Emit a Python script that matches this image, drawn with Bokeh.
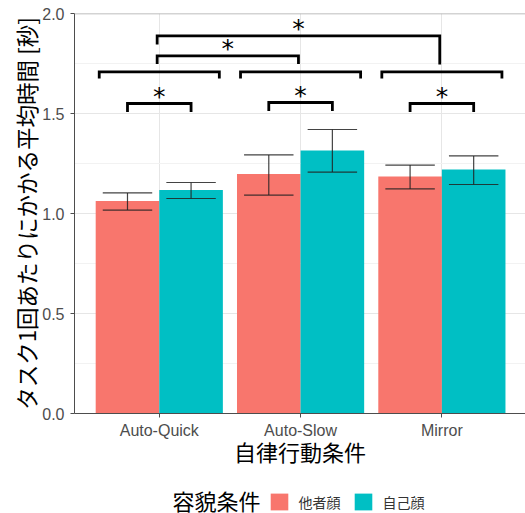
from bokeh.plotting import figure
from bokeh.layouts import column
from bokeh.models import (Range1d, FixedTicker, PrintfTickFormatter, Legend,
                          LegendItem, Label, Span)
from bokeh.core.properties import value
from bokeh.embed import file_html
from bokeh.resources import INLINE

# ---------------- data ----------------
categories = ["Auto-Quick", "Auto-Slow", "Mirror"]
groups = ["他者顔", "自己顔"]
legend_title = "容貌条件"
colors = ["#F8766D", "#00BFC4"]

mean_other = [1.063, 1.197, 1.185]
mean_self = [1.117, 1.315, 1.220]
low_other = [1.017, 1.092, 1.123]
high_other = [1.103, 1.293, 1.242]
low_self = [1.075, 1.207, 1.145]
high_self = [1.155, 1.420, 1.288]

y_ticks = [0.0, 0.5, 1.0, 1.5, 2.0]
y_minor = [0.25, 0.75, 1.25, 1.75]

# significance brackets (heights in seconds)
within_top = [1.550, 1.555, 1.550]      # 他者顔 vs 自己顔 in each condition
within_bottom = [1.507, 1.512, 1.507]
group_top = [1.708, 1.708, 1.708]       # brackets spanning each condition
group_bottom = [1.675, 1.675, 1.675]
between_pairs = [(0, 1), (0, 2)]        # condition comparisons
between_top = [1.788, 1.888]
between_left_bottom = [1.747, 1.845]
between_right_bottom = [1.747, 1.745]
star = "*"

# ---------------- layout constants ----------------
dodge = 0.225
bar_w = 0.45
cap_half = 0.175
group_half = 0.425
pair_shift = -0.015

FONT_JP = "Noto Sans CJK JP"
FONT_LAT = "Liberation Sans"

xc = [i + 1 for i in range(len(categories))]
x_other = [c - dodge for c in xc]
x_self = [c + dodge for c in xc]

W = 525
H_MAIN = 470
H_LEG = 43
X_START = 0.4
X_END = 0.4 + 451 / 141.3

p = figure(width=W, height=H_MAIN,
           x_range=Range1d(X_START, X_END), y_range=Range1d(0, 2),
           output_backend="svg", toolbar_location=None,
           min_border_left=74, min_border_right=0, min_border_top=13,
           min_border_bottom=57)

p.background_fill_color = "white"
p.border_fill_color = "white"
p.outline_line_color = None

# grids
p.xgrid.ticker = FixedTicker(ticks=xc)
p.ygrid.ticker = FixedTicker(ticks=y_ticks, minor_ticks=y_minor)
p.xgrid.grid_line_color = "#E6E6E6"
p.ygrid.grid_line_color = "#E6E6E6"
p.ygrid.minor_grid_line_color = "#F2F2F2"

# panel top border
p.add_layout(Span(location=y_ticks[-1], dimension="width", line_color="#A8A8A8", line_width=1.5))

# bars
p.vbar(x=x_other, top=mean_other, width=bar_w, color=colors[0], line_color=None)
p.vbar(x=x_self, top=mean_self, width=bar_w, color=colors[1], line_color=None)

# error bars
eb_color = "#222222"
for xs_, lo, hi in ((x_other, low_other, high_other), (x_self, low_self, high_self)):
    p.segment(x0=xs_, y0=lo, x1=xs_, y1=hi, line_color=eb_color, line_width=1.2, line_alpha=0.85)
    p.segment(x0=[x - cap_half for x in xs_], y0=lo, x1=[x + cap_half for x in xs_], y1=lo,
              line_color=eb_color, line_width=1.2, line_alpha=0.85)
    p.segment(x0=[x - cap_half for x in xs_], y0=hi, x1=[x + cap_half for x in xs_], y1=hi,
              line_color=eb_color, line_width=1.2, line_alpha=0.85)

# brackets
bx, by = [], []
sx, sy = [], []
for i, c in enumerate(xc):
    bx.append([c - dodge, c - dodge, c + dodge, c + dodge])
    by.append([within_bottom[i], within_top[i], within_top[i], within_bottom[i]])
    sx.append(c)
    sy.append(within_top[i])
    bx.append([c - group_half, c - group_half, c + group_half, c + group_half])
    by.append([group_bottom[i], group_top[i], group_top[i], group_bottom[i]])
for k, (a, b) in enumerate(between_pairs):
    xa = xc[a] + pair_shift
    xb = xc[b] + pair_shift
    bx.append([xa, xa, xb, xb])
    by.append([between_left_bottom[k], between_top[k], between_top[k], between_right_bottom[k]])
    sx.append((xa + xb) / 2)
    sy.append(between_top[k])
p.multi_line(xs=bx, ys=by, line_color="black", line_width=2.8, line_join="miter")
p.text(x=sx, y=sy, text=[star] * len(sx), text_font=value("DejaVu Sans"),
       text_font_size="25px", text_align="center", text_baseline="alphabetic",
       y_offset=-7, text_color="black")

# axes
p.xaxis.ticker = FixedTicker(ticks=xc)
p.xaxis.major_label_overrides = {c: categories[i] for i, c in enumerate(xc)}
p.yaxis.ticker = FixedTicker(ticks=y_ticks)
p.yaxis.formatter = PrintfTickFormatter(format="%.1f")

for ax in (p.xaxis[0], p.yaxis[0]):
    ax.axis_line_color = "#4D4D4D"
    ax.axis_line_width = 1
    ax.major_tick_line_color = "#4D4D4D"
    ax.major_tick_out = 4
    ax.major_tick_in = 0
    ax.minor_tick_line_color = None
    ax.major_label_text_font = FONT_LAT
    ax.major_label_text_font_size = "16px"
    ax.major_label_text_color = "#4D4D4D"
    ax.axis_label_text_font = FONT_JP
    ax.axis_label_text_font_style = "normal"
    ax.axis_label_text_color = "black"

p.xaxis.axis_label = "自律行動条件"
p.xaxis.axis_label_text_font_size = "22px"
p.xaxis.major_label_standoff = 4
p.xaxis.axis_label_standoff = -7
p.yaxis.axis_label = "タスク1回あたりにかかる平均時間 [秒]"
p.yaxis.axis_label_text_font_size = "22.5px"
p.yaxis.major_label_standoff = 6
p.yaxis.axis_label_standoff = -3

# ---------------- legend strip ----------------
# the strip shows only the legend; its y range lies above the bars so the
# key renderers themselves stay out of sight
q = figure(width=W, height=H_LEG, x_range=Range1d(X_START, X_END), y_range=Range1d(2, 3),
           x_axis_type=None, y_axis_type=None, output_backend="svg",
           toolbar_location=None, min_border=0)
q.outline_line_color = None
q.background_fill_color = "white"
q.border_fill_color = "white"
q.grid.visible = False

k_other = q.vbar(x=x_other, top=mean_other, width=bar_w, color=colors[0], line_color=None)
k_self = q.vbar(x=x_self, top=mean_self, width=bar_w, color=colors[1], line_color=None)

legend = Legend(items=[LegendItem(label=groups[0], renderers=[k_other]),
                       LegendItem(label=groups[1], renderers=[k_self])],
                orientation="horizontal", location=(193.5, 1),
                glyph_width=22, glyph_height=21, label_height=21,
                label_standoff=9, spacing=11, padding=0, margin=0,
                border_line_color=None, background_fill_alpha=0,
                label_text_font=FONT_JP, label_text_font_size="14px",
                label_text_color="#333333")
q.add_layout(legend)
q.add_layout(Label(x=98, y=14, x_units="screen", y_units="screen", text=legend_title,
                   text_font=FONT_JP, text_font_size="22px", text_baseline="middle",
                   text_align="left", text_color="black"))

layout = column(p, q, spacing=0)
open("out.html", "w").write(file_html(layout, INLINE))
